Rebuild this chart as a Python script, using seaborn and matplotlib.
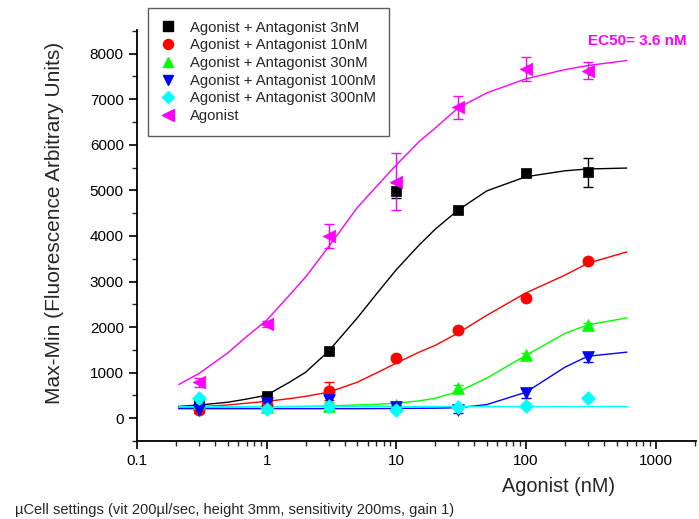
import numpy as np
import pandas as pd
import matplotlib
matplotlib.use("Agg")
import matplotlib.pyplot as plt
import matplotlib.ticker as mticker
import seaborn as sns

# ---- data ----
conc = [0.3, 1, 3, 10, 30, 100, 300]

agonist = [790, 2070, 4000, 5190, 6820, 7670, 7630]
agonist_err = [100, 60, 260, 620, 250, 265, 185]
ant3 = [290, 480, 1470, 4990, 4570, 5385, 5400]
ant3_err = [60, 60, 60, 165, 60, 60, 315]
ant10 = [175, 300, 600, 1320, 1930, 2640, 3450]
ant10_err = [60, 40, 200, 40, 40, 40, 40]
ant30 = [330, 250, 260, 280, 660, 1380, 2040]
ant30_err = [60, 40, 100, 40, 60, 60, 60]
ant100 = [175, 330, 400, 250, 175, 550, 1340]
ant100_err = [60, 60, 100, 40, 60, 100, 100]
ant300 = [440, 200, 260, 175, 240, 265, 440]
ant300_err = [40, 40, 40, 40, 40, 40, 40]

# fitted curves
fit_x = [0.21, 0.3, 0.5, 0.7, 1, 1.5, 2, 3, 5, 7, 10, 15, 20, 30, 50, 100, 200, 300, 600]
agonist_fit = [740, 980, 1430, 1790, 2150, 2700, 3100, 3760, 4620, 5080, 5560, 6070, 6370,
               6810, 7140, 7450, 7650, 7740, 7850]
ant3_fit = [260, 290, 350, 420, 505, 790, 1010, 1470, 2200, 2720, 3260, 3800, 4150,
            4570, 4990, 5300, 5430, 5470, 5490]
ant10_fit = [220, 250, 290, 330, 370, 430, 480, 570, 790, 990, 1210, 1450, 1600,
             1870, 2260, 2750, 3140, 3400, 3650]
ant30_fit = [240, 240, 245, 248, 250, 255, 260, 270, 290, 305, 330, 380, 440,
             580, 880, 1380, 1860, 2050, 2200]
ant100_fit = [210, 210, 210, 210, 210, 210, 210, 210, 210, 212, 215, 218, 220,
              230, 300, 570, 1120, 1360, 1450]
ant300_fit = [260] * 19

labels = ["Agonist + Antagonist 3nM", "Agonist + Antagonist 10nM",
          "Agonist + Antagonist 30nM", "Agonist + Antagonist 100nM",
          "Agonist + Antagonist 300nM", "Agonist"]
x_ticks = [0.1, 1, 10, 100, 1000]
x_tick_labels = ["0.1", "1", "10", "100", "1000"]
y_ticks = [0, 1000, 2000, 3000, 4000, 5000, 6000, 7000, 8000]

# ---- styling ----
sns.set_style("ticks")
plt.rcParams['font.family'] = ['Liberation Sans', 'DejaVu Sans']

series = [
    (ant3, ant3_err, ant3_fit, "#000000", "s", 7.5),
    (ant10, ant10_err, ant10_fit, "#FF0000", "o", 8),
    (ant30, ant30_err, ant30_fit, "#00FF00", "^", 8.5),
    (ant100, ant100_err, ant100_fit, "#0000FF", "v", 8.5),
    (ant300, ant300_err, ant300_fit, "#00FFFF", "D", 7),
    (agonist, agonist_err, agonist_fit, "#FF00FF", "<", 9),
]

fig = plt.figure(figsize=(6.99, 5.19), dpi=100)
ax = fig.add_axes([137/699, 1-441/519, (696-137)/699, (441-30)/519])

handles = []
for (vals, errs, fit, col, mk, ms), lab in zip(series, labels):
    fdf = pd.DataFrame({"x": fit_x, "y": fit})
    sns.lineplot(data=fdf, x="x", y="y", ax=ax, color=col, lw=1.0,
                 legend=False, zorder=2)
    ax.errorbar(conc, vals, yerr=errs, fmt="none", ecolor=col, elinewidth=1.0,
                capsize=3.5, capthick=1.0, zorder=3)
    ddf = pd.DataFrame({"x": conc, "y": vals})
    sns.scatterplot(data=ddf, x="x", y="y", ax=ax, color=col, marker=mk,
                    s=ms**2, edgecolor=col, linewidth=0.5, zorder=4, legend=False)
    h, = ax.plot([], [], ls="none", marker=mk, color=col, markersize=ms*0.9,
                 markeredgecolor=col)
    handles.append(h)

ax.set_xscale("log")
ax.set_xlim(0.1, 2050)
ax.set_ylim(-500, 8520)
ax.set_xticks(x_ticks)
ax.set_xticklabels(x_tick_labels)
ax.xaxis.set_minor_locator(mticker.LogLocator(base=10, subs=np.arange(2, 10)))
ax.xaxis.set_minor_formatter(mticker.NullFormatter())
ax.set_yticks(y_ticks)
ax.yaxis.set_minor_locator(mticker.MultipleLocator(500))

for s in ["top", "right"]:
    ax.spines[s].set_visible(False)
for s in ["left", "bottom"]:
    ax.spines[s].set_linewidth(1.3)
    ax.spines[s].set_color("black")
ax.tick_params(axis="both", which="major", length=6, width=1.2, labelsize=11,
               direction="out", colors="black")
ax.tick_params(axis="both", which="minor", length=3.5, width=1.0, direction="out")

ax.set_xlabel("Agonist (nM)", fontsize=14.3)
ax.set_ylabel("Max-Min (Fluorescence Arbitrary Units)", fontsize=15)
ax.xaxis.set_label_coords(0.755, -0.087)
ax.yaxis.set_label_coords(-0.13, 0.53)

leg = fig.legend(handles, labels, loc="upper left",
                 bbox_to_anchor=(148/699, 1-8/519), borderaxespad=0,
                 fontsize=10.7, frameon=True, fancybox=False, handlelength=1.0,
                 handletextpad=1.0, labelspacing=0.25, borderpad=0.85)
leg.get_frame().set_edgecolor("#333333")
leg.get_frame().set_linewidth(1.0)

fig.text(588/699, 1-41/519, "EC50= 3.6 nM", color="#FF00FF", fontsize=11,
         fontweight="bold", va="center", ha="left")
fig.text(15/699, 1-510/519,
         "\u00b5Cell settings (vit 200\u00b5l/sec, height 3mm, sensitivity 200ms, gain 1)",
         fontsize=10.5, va="center", ha="left")

fig.savefig("out.png", dpi=100)
